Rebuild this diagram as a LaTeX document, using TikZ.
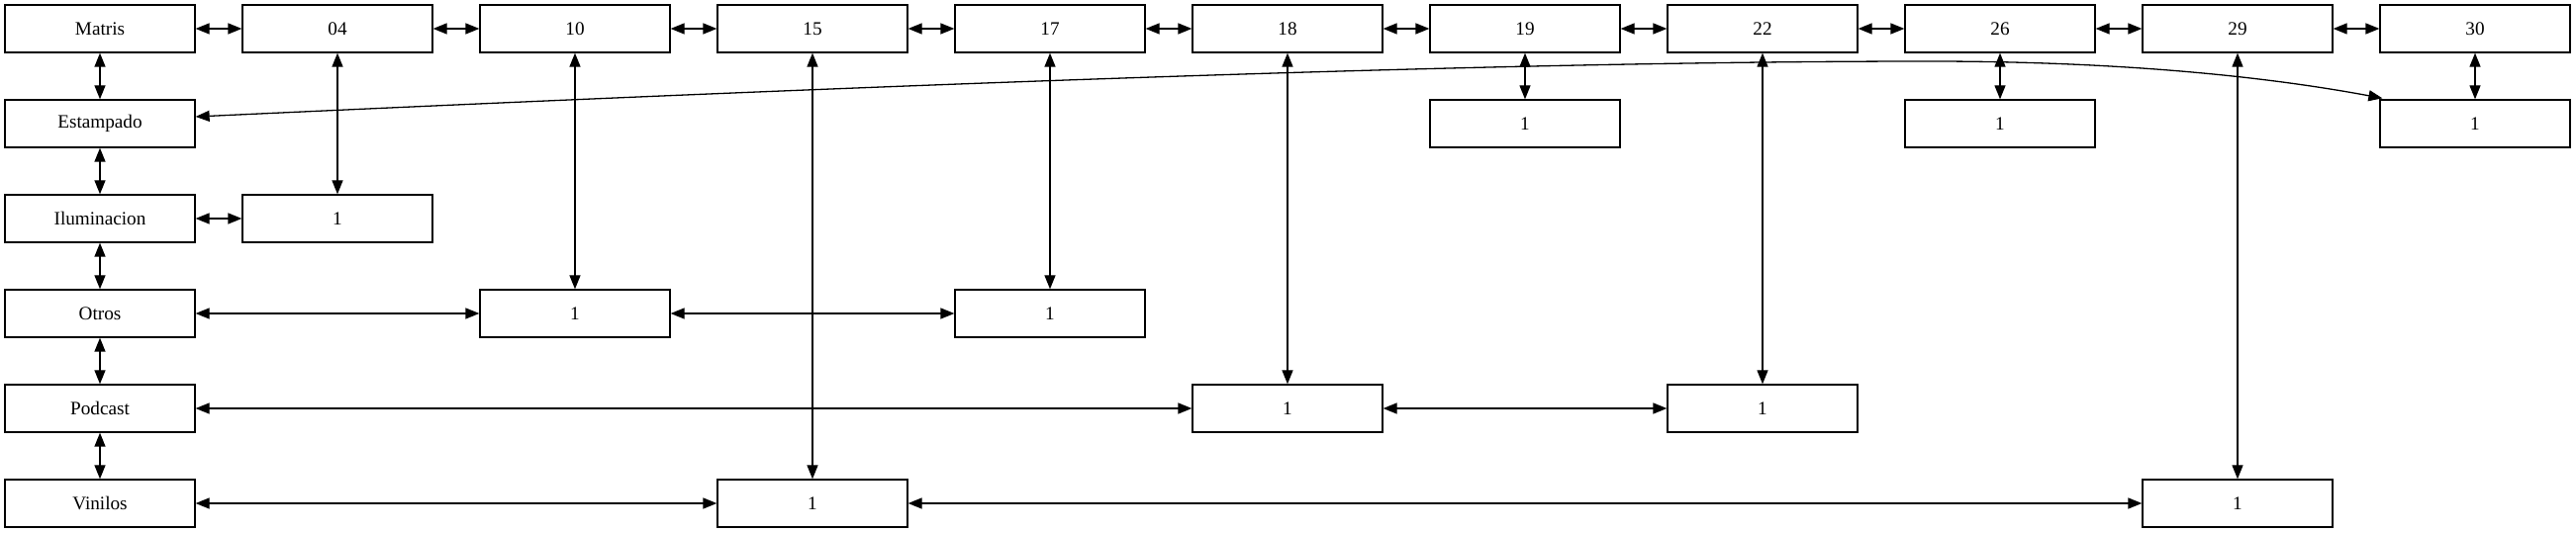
\documentclass[tikz,border=0pt]{standalone}
\usepackage{fontspec}
\setmainfont{Liberation Serif}
\usetikzlibrary{arrows.meta,calc}
\begin{document}
\begin{tikzpicture}[x=0.5pt,y=-0.5pt,
  box/.style={draw,line width=0.65pt,minimum width=96pt,minimum height=24pt,inner sep=0pt,font=\fontsize{9.6}{11}\selectfont},
  link/.style={line width=0.65pt,{Triangle[length=7pt,width=5.5pt]}-{Triangle[length=7pt,width=5.5pt]}}]
\useasboundingbox (0,0) rectangle (2603,539);
% top row
\node[box] (m0) at (101,29) {Matris};
\node[box] (m1) at (341,29) {04};
\node[box] (m2) at (581,29) {10};
\node[box] (m3) at (821,29) {15};
\node[box] (m4) at (1061,29) {17};
\node[box] (m5) at (1301,29) {18};
\node[box] (m6) at (1541,29) {19};
\node[box] (m7) at (1781,29) {22};
\node[box] (m8) at (2021,29) {26};
\node[box] (m9) at (2261,29) {29};
\node[box] (m10) at (2501,29) {30};
% left column
\node[box] (est) at (101,125) {Estampado};
\node[box] (ilu) at (101,221) {Iluminacion};
\node[box] (otr) at (101,317) {Otros};
\node[box] (pod) at (101,413) {Podcast};
\node[box] (vin) at (101,509) {Vinilos};
% value boxes
\node[box] (a) at (341,221) {1};
\node[box] (b) at (581,317) {1};
\node[box] (c) at (1061,317) {1};
\node[box] (d) at (821,509) {1};
\node[box] (e) at (2261,509) {1};
\node[box] (f) at (1301,413) {1};
\node[box] (g) at (1781,413) {1};
\node[box] (h) at (1541,125) {1};
\node[box] (i) at (2021,125) {1};
\node[box] (j) at (2501,125) {1};
% top chain
\foreach \p/\q in {m0/m1,m1/m2,m2/m3,m3/m4,m4/m5,m5/m6,m6/m7,m7/m8,m8/m9,m9/m10}
  \draw[link] (\p) -- (\q);
% left chain
\foreach \p/\q in {m0/est,est/ilu,ilu/otr,otr/pod,pod/vin}
  \draw[link] (\p) -- (\q);
% other links
\draw[link] (ilu) -- (a);
\draw[link] (m1) -- (a);
\draw[link] (otr) -- (b);
\draw[link] (b) -- (c);
\draw[link] (m2) -- (b);
\draw[link] (m4) -- (c);
\draw[link] (vin) -- (d);
\draw[link] (d) -- (e);
\draw[link] (m3) -- (d);
\draw[link] (m9) -- (e);
\draw[link] (pod) -- (f);
\draw[link] (f) -- (g);
\draw[link] (m5) -- (f);
\draw[link] (m7) -- (g);
\draw[link] (m6) -- (h);
\draw[link] (m8) -- (i);
\draw[link] (m10) -- (j);
% curved link
\coordinate (cpeak) at (1950,62);
\draw[link] ($(est.east)+(0,-7)$) .. controls (997,80.8) and (1550,62) .. (cpeak)
  .. controls (2100,62) and (2258,71.5) .. ($(j.north west)+(3,-1)$);
\end{tikzpicture}
\end{document}
